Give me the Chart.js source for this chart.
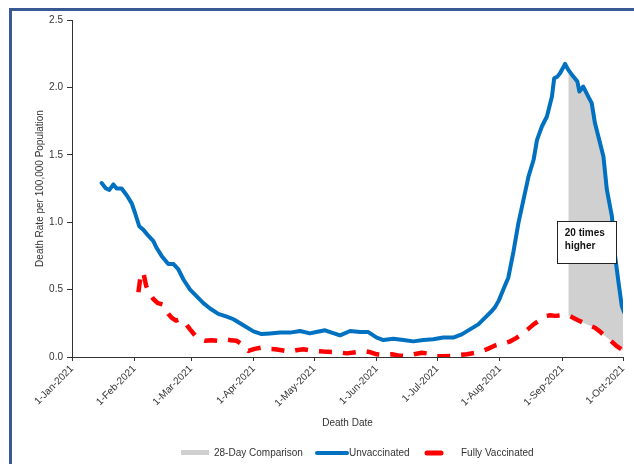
<!DOCTYPE html>
<html><head><meta charset="utf-8">
<script src="https://cdn.jsdelivr.net/npm/chart.js@4.4.0/dist/chart.umd.min.js"></script>
<style>html,body{margin:0;padding:0;background:#fff;}canvas{display:block}</style>
</head><body>
<canvas id="c" width="634" height="464"></canvas>
<script>
// ---- data (day offsets from 1-Jan-2021) ----
const monthTickDays = [0, 31, 59, 90, 120, 151, 181, 212, 243, 273];
const monthTickLabels = ['1-Jan-2021','1-Feb-2021','1-Mar-2021','1-Apr-2021','1-May-2021','1-Jun-2021','1-Jul-2021','1-Aug-2021','1-Sep-2021','1-Oct-2021'];
const yTickValues = [0, 0.5, 1.0, 1.5, 2.0, 2.5];

const unvacDays = [14.7,16.8,18.5,20.5,22.1,24.6,27.1,29.6,31.2,33.3,35.3,37.8,40.3,41.9,44.4,47.7,50.2,52.7,55.2,58.5,61.8,65.1,68.4,72.5,76.7,80,84.9,89.9,94,98.1,103.1,108,113,117.9,121,125.4,128.7,132.8,137.8,142.7,146.8,151,154.3,159.2,164.2,169.1,174.1,179,184,188.9,193.1,197.2,201.3,204.7,208,209.6,211.5,213.7,216.2,218.7,221.2,223.7,226.2,228.7,230.4,232.8,235.3,237.8,238.9,240.5,241.8,244.3,245.9,248.4,250.4,251.4,253.3,255.8,257.5,259.1,260.8,263.3,265,267.5,269.1,270.8,272.4,273.6];
const unvacRates = [1.29,1.25,1.24,1.28,1.25,1.25,1.20,1.14,1.07,0.97,0.945,0.90,0.86,0.81,0.75,0.69,0.69,0.65,0.575,0.50,0.45,0.40,0.36,0.32,0.30,0.28,0.235,0.19,0.17,0.175,0.182,0.181,0.193,0.175,0.185,0.198,0.181,0.161,0.193,0.185,0.185,0.144,0.126,0.136,0.126,0.116,0.126,0.131,0.144,0.144,0.168,0.205,0.242,0.292,0.341,0.37,0.42,0.50,0.59,0.78,0.995,1.167,1.34,1.463,1.611,1.71,1.784,1.932,2.068,2.08,2.105,2.174,2.13,2.08,2.043,1.969,2.006,1.932,1.883,1.735,1.636,1.488,1.241,1.044,0.748,0.551,0.378,0.329];

const vaxDays = [32.9,33.8,35.3,36.7,38.5,40.3,42.5,44.9,46.5,47.7,49.5,51.5,53.5,55.2,58.5,61,63.4,66,69.2,72.5,75.8,78.5,81.6,84.5,87.4,90.5,94,97,100.6,104,108,111,114.6,117.5,120.4,124.5,128.7,132,136.1,140.5,144.7,148,151,154.5,158.5,162,165.9,169.5,173.3,176.5,179.9,184,188.2,192,195.6,199.5,203,206,209.6,213.5,217,220,222.8,225.8,228.7,231.5,234.4,237,239.3,242.5,245,246.5,248.5,251.7,255.5,259.1,261.5,264.1,267,269.9,273.6];
const vaxRates = [0.48,0.58,0.63,0.53,0.47,0.43,0.40,0.39,0.35,0.32,0.29,0.27,0.28,0.27,0.205,0.16,0.13,0.12,0.125,0.12,0.13,0.125,0.12,0.09,0.045,0.06,0.07,0.06,0.057,0.05,0.04,0.05,0.057,0.05,0.045,0.04,0.037,0.035,0.027,0.035,0.044,0.035,0.02,0.015,0.02,0.01,0.007,0.02,0.032,0.025,0.007,0.005,0.007,0.015,0.02,0.03,0.044,0.06,0.085,0.10,0.115,0.14,0.168,0.205,0.242,0.27,0.303,0.31,0.305,0.31,0.31,0.305,0.29,0.266,0.24,0.217,0.19,0.155,0.12,0.08,0.045];

const comparisonStartDay = 245.9;
const seriesNames = ['Unvaccinated', 'Fully Vaccinated', '28-Day Comparison'];
const annotationLines = ['20 times', 'higher'];
const annotationAnchor = {x0: 240.2, x1: 269.6, y0: 1.007, y1: 0.694};

// ---- build ----
const unvacPts = unvacDays.map((d, i) => ({x: d, y: unvacRates[i]}));
const vaxPts = vaxDays.map((d, i) => ({x: d, y: vaxRates[i]}));
const compPts = unvacPts.filter(p => p.x >= comparisonStartDay);

const COLORS = {blue: '#0070C0', red: '#FF0000', gray: '#D0D0D0', text: '#333333', frame: '#3A5894'};
const FONT = 'Liberation Sans, Arial, sans-serif';

const framePlugin = {
  id: 'frame',
  beforeDraw(chart) {
    const ctx = chart.ctx;
    ctx.save();
    ctx.fillStyle = '#fff';
    ctx.fillRect(0, 0, chart.width, chart.height);
    ctx.fillStyle = COLORS.frame;
    ctx.fillRect(9, 8, chart.width - 9, 3);
    ctx.fillRect(9, 8, 3, chart.height - 8);
    ctx.restore();
  }
};

const annotationPlugin = {
  id: 'annot',
  afterDatasetsDraw(chart) {
    const {ctx, scales: {x, y}} = chart;
    const l = x.getPixelForValue(annotationAnchor.x0), r = x.getPixelForValue(annotationAnchor.x1);
    const t = y.getPixelForValue(annotationAnchor.y0), b = y.getPixelForValue(annotationAnchor.y1);
    ctx.save();
    ctx.fillStyle = '#fff';
    ctx.fillRect(l, t, r - l, b - t);
    ctx.strokeStyle = '#222';
    ctx.lineWidth = 1;
    ctx.strokeRect(Math.round(l) + 0.5, Math.round(t) + 0.5, Math.round(r - l), Math.round(b - t));
    ctx.fillStyle = '#111';
    ctx.font = 'bold 10px ' + FONT;
    ctx.textBaseline = 'middle';
    ctx.fillText(annotationLines[0], l + 8, t + 12);
    ctx.fillText(annotationLines[1], l + 8, t + 25);
    ctx.restore();
  }
};

const legendPlugin = {
  id: 'customLegend',
  afterDraw(chart) {
    const ctx = chart.ctx;
    const yy = 453;
    ctx.save();
    ctx.font = '10px ' + FONT;
    ctx.fillStyle = COLORS.text;
    ctx.textBaseline = 'middle';
    // 28-Day Comparison
    ctx.fillStyle = COLORS.gray;
    ctx.fillRect(181, yy - 3, 28, 5);
    ctx.fillStyle = COLORS.text;
    ctx.fillText(seriesNames[2], 214, yy);
    // Unvaccinated
    ctx.strokeStyle = COLORS.blue; ctx.lineWidth = 4; ctx.lineCap = 'round';
    ctx.beginPath(); ctx.moveTo(317, yy); ctx.lineTo(347, yy); ctx.stroke();
    ctx.fillText(seriesNames[0], 349, yy);
    // Fully vaccinated
    ctx.strokeStyle = COLORS.red; ctx.lineWidth = 5;
    ctx.beginPath(); ctx.moveTo(427, yy); ctx.lineTo(441, yy); ctx.stroke();
    ctx.fillText(seriesNames[1], 461, yy);
    ctx.restore();
  }
};

new Chart(document.getElementById('c'), {
  type: 'line',
  data: {
    datasets: [
      {label: seriesNames[0], data: unvacPts, borderColor: COLORS.blue, borderWidth: 4, pointRadius: 0, tension: 0, fill: false, borderJoinStyle: 'round', borderCapStyle: 'round'},
      {label: seriesNames[1], data: vaxPts, borderColor: COLORS.red, borderWidth: 4.5, borderDash: [13, 11], pointRadius: 0, tension: 0, fill: false, borderJoinStyle: 'round'},
      {label: seriesNames[2], data: compPts, borderColor: 'rgba(0,0,0,0)', borderWidth: 0, backgroundColor: COLORS.gray, pointRadius: 0, tension: 0, fill: 1}
    ]
  },
  options: {
    responsive: false,
    animation: false,
    devicePixelRatio: 1,
    layout: {padding: {left: 0, right: 11, top: 20, bottom: 0}},
    plugins: {legend: {display: false}, tooltip: {enabled: false}},
    scales: {
      x: {
        type: 'linear', min: 0, max: 273,
        afterBuildTicks(scale) { scale.ticks = monthTickDays.map(v => ({value: v})); },
        afterFit(scale) { scale.height = 107; },
        ticks: {
          autoSkip: false, minRotation: 45, maxRotation: 45, padding: 2,
          color: COLORS.text, font: {family: FONT, size: 10},
          callback: (v) => monthTickLabels[monthTickDays.indexOf(v)]
        },
        grid: {display: true, drawOnChartArea: false, drawTicks: true, tickLength: 4, color: COLORS.text},
        border: {display: true, color: COLORS.text, width: 1},
        title: {display: true, text: 'Death Date', color: COLORS.text, font: {family: FONT, size: 10}, padding: {top: 0, bottom: 35}}
      },
      y: {
        type: 'linear', min: 0, max: 2.5,
        afterBuildTicks(scale) { scale.ticks = yTickValues.map(v => ({value: v})); },
        afterFit(scale) { scale.width = 72; },
        ticks: {padding: 4, color: COLORS.text, font: {family: FONT, size: 10}, callback: (v) => Number(v).toFixed(1)},
        grid: {display: true, drawOnChartArea: false, drawTicks: true, tickLength: 5, color: COLORS.text},
        border: {display: true, color: COLORS.text, width: 1},
        title: {display: true, text: 'Death Rate per 100,000 Population', color: COLORS.text, font: {family: FONT, size: 10}, padding: {top: 34, bottom: 0}}
      }
    }
  },
  plugins: [framePlugin, annotationPlugin, legendPlugin]
});
</script>
</body></html>
